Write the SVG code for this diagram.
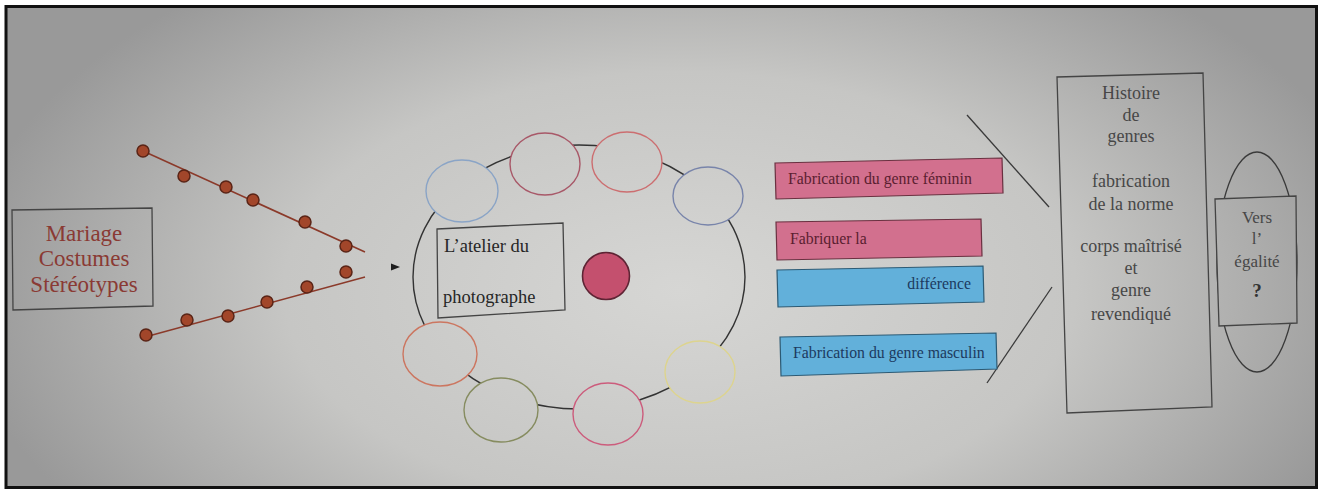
<svg xmlns="http://www.w3.org/2000/svg" width="1322" height="490" viewBox="0 0 1322 490">
<defs>
<radialGradient id="bg" gradientUnits="userSpaceOnUse" cx="680" cy="290" r="720" gradientTransform="translate(680 290) scale(1 0.55) translate(-680 -290)">
<stop offset="0" stop-color="#d6d6d4"/>
<stop offset="0.55" stop-color="#c6c6c4"/>
<stop offset="1" stop-color="#999999"/>
</radialGradient>
<marker id="arr" viewBox="0 0 10 10" refX="10" refY="5" markerWidth="9" markerHeight="9" orient="auto" markerUnits="userSpaceOnUse">
<path d="M0,1 L10,5 L0,9 Z" fill="#1e1e1e"/>
</marker>
<style>
text{font-family:"Liberation Serif","DejaVu Serif","Times New Roman",serif;}
.box{fill:url(#bg);stroke:#444;stroke-width:1.3;}
.ln{stroke:#8b3a2a;stroke-width:1.6;fill:none;}
.dot{fill:#a2462a;stroke:#5a2416;stroke-width:1.5;}
.ring{fill:url(#bg);stroke-width:1.4;}
.pink{fill:#d2708e;stroke:#6a3040;stroke-width:1.2;}
.blue{fill:#62b0da;stroke:#2c5a74;stroke-width:1.2;}
.bt{font-size:15.8px;}
.pt{fill:#5a1e30;}
.btx{fill:#1c3a60;}
.gt{fill:#474747;font-size:18px;text-anchor:middle;}
.conn{stroke:#3a3a3a;stroke-width:1.3;fill:none;}
</style>
</defs>
<rect x="0" y="0" width="1322" height="490" fill="#ffffff"/>
<rect x="6" y="6.5" width="1310.5" height="481" fill="url(#bg)" stroke="#111" stroke-width="3"/>

<g id="sources">
<polygon class="box" points="12,210 152,208 153,306 13,310"/>
<g fill="#8a3a34" font-size="23" text-anchor="middle">
<text x="84" y="241">Mariage</text>
<text x="84" y="266">Costumes</text>
<text x="84" y="292">Stéréotypes</text>
</g>
</g>

<g id="connectors">
<line class="ln" x1="143" y1="151" x2="365" y2="252"/>
<line class="ln" x1="145" y1="337" x2="365" y2="277"/>
<line x1="384" y1="267" x2="400" y2="267" stroke="none" marker-end="url(#arr)"/>
<path class="conn" d="M967,115 L1049,207"/>
<path class="conn" d="M1052,287 L987,383"/>
</g>

<g id="dots-top">
<circle class="dot" cx="143" cy="151" r="6"/>
<circle class="dot" cx="184" cy="176" r="6"/>
<circle class="dot" cx="226" cy="187" r="6"/>
<circle class="dot" cx="253" cy="200" r="6"/>
<circle class="dot" cx="305" cy="222" r="6"/>
<circle class="dot" cx="346" cy="246" r="6"/>
</g>
<g id="dots-bottom">
<circle class="dot" cx="146" cy="335" r="6"/>
<circle class="dot" cx="187" cy="320" r="6"/>
<circle class="dot" cx="228" cy="316" r="6"/>
<circle class="dot" cx="267" cy="302" r="6"/>
<circle class="dot" cx="307" cy="287" r="6"/>
<circle class="dot" cx="346" cy="272" r="6"/>
</g>

<g id="atelier">
<ellipse cx="579" cy="277" rx="166" ry="132" fill="none" stroke="#333" stroke-width="1.4"/>
<ellipse class="ring" cx="462" cy="191" rx="36" ry="31" stroke="#8aa4c6"/>
<ellipse class="ring" cx="545" cy="164" rx="35" ry="31" stroke="#a85868"/>
<ellipse class="ring" cx="627" cy="162" rx="35" ry="30" stroke="#cc6e70"/>
<ellipse class="ring" cx="708" cy="196" rx="35" ry="29" stroke="#7884aa"/>
<ellipse class="ring" cx="440" cy="354" rx="37" ry="32" stroke="#cc7660"/>
<ellipse class="ring" cx="501" cy="410" rx="37" ry="32" stroke="#868c60"/>
<ellipse class="ring" cx="608" cy="414" rx="35" ry="31" stroke="#cc5c7c"/>
<ellipse class="ring" cx="700" cy="372" rx="35" ry="31" stroke="#ddd48e"/>
<polygon class="box" points="437,229 563,223 565,310 438,318"/>
<g fill="#262626" font-size="18.5">
<text x="444" y="252">L’atelier du</text>
<text x="443" y="303">photographe</text>
</g>
<circle cx="606" cy="276" r="23.5" fill="#c4506e" stroke="#5e2434" stroke-width="1.6"/>
</g>

<g id="bar-feminin">
<polygon class="pink" points="775,163 1002,158 1003,193 776,199"/>
<text class="bt pt" x="788" y="184">Fabrication du genre féminin</text>
</g>
<g id="bar-fabriquer">
<polygon class="pink" points="776,222 981,219 982,256 777,260"/>
<text class="bt pt" x="790" y="244">Fabriquer la</text>
</g>
<g id="bar-difference">
<polygon class="blue" points="777,270 983,266 984,302 778,307"/>
<text class="bt btx" x="971" y="289" text-anchor="end">différence</text>
</g>
<g id="bar-masculin">
<polygon class="blue" points="780,337 996,333 997,369 781,376"/>
<text class="bt btx" x="793" y="358">Fabrication du genre masculin</text>
</g>

<g id="histoire">
<polygon class="box" points="1057,77 1203,73 1212,407 1067,413"/>
<g class="gt">
<text x="1131" y="99">Histoire</text>
<text x="1131" y="121">de</text>
<text x="1131" y="142">genres</text>
<text x="1131" y="187">fabrication</text>
<text x="1131" y="210">de la norme</text>
<text x="1131" y="252">corps maîtrisé</text>
<text x="1131" y="274">et</text>
<text x="1131" y="296">genre</text>
<text x="1131" y="320">revendiqué</text>
</g>
</g>

<g id="egalite">
<ellipse cx="1257" cy="262" rx="40" ry="110" fill="none" stroke="#3a3a3a" stroke-width="1.3"/>
<polygon class="box" points="1215,199 1296,196 1297,323 1219,326"/>
<g class="gt">
<text x="1257" y="223" font-size="17">Vers</text>
<text x="1257" y="244" font-size="17">l’</text>
<text x="1257" y="267" font-size="17">égalité</text>
<text x="1257" y="297" font-size="19" font-weight="bold" fill="#333">?</text>
</g>
</g>
</svg>
